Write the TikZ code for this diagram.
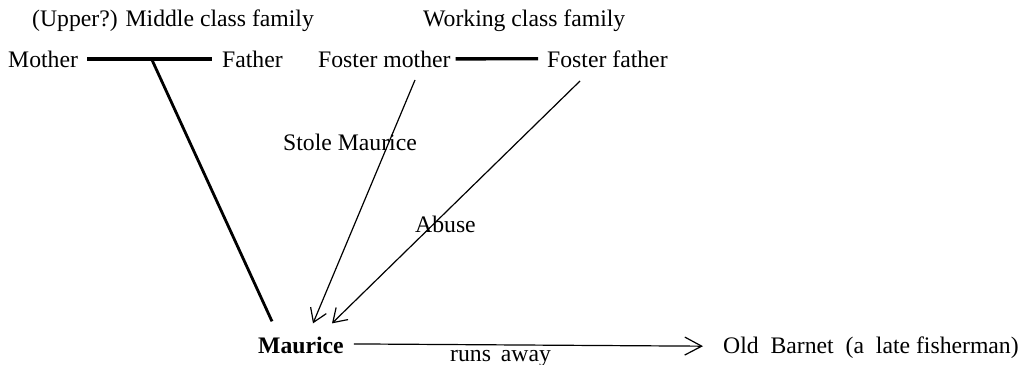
\documentclass[tikz,border=0pt]{standalone}
\usepackage{fontspec}
\setmainfont{Liberation Serif}
\usetikzlibrary{arrows.meta,calc}
\begin{document}
\begin{tikzpicture}[x=1pt,y=-1pt,
  lbl/.style={inner sep=0pt, anchor=base west, font=\fontsize{23.7}{28}\selectfont},
  bond/.style={line width=3.3pt},
  rel/.style={line width=1.2pt, -{Straight Barb[length=13pt,width=17pt,line width=1.2pt]}},
  runarrow/.style={line width=1.2pt, -{Straight Barb[length=17pt,width=18pt,line width=1.2pt]}}]
\useasboundingbox (0,0) rectangle (1032,364);
% headings
\node[lbl] (midclass) at (32,27) {(Upper?) Middle class family};
\node[lbl] (workclass) at (423,27) {Working class family};
% parents
\node[lbl] (mother) at (8,67) {Mother};
\node[lbl] (father) at (222,67) {Father};
\node[lbl] (fmother) at (318,67) {Foster mother};
\node[lbl] (ffather) at (547,67) {Foster father};
% Maurice and Old Barnet
\node[lbl] (maurice) at (258,353) {\bfseries Maurice};
\node[lbl] (barnet) at (723,353) {Old\ \ Barnet\ \ (a\ \ late fisherman)};
% labels
\node[lbl] (stole) at (283,150) {Stole Maurice};
\node[lbl] (abuse) at (415,232) {Abuse};
\node[lbl] (runs) at (450,361) {runs\ \,away};
% bonds
\draw[bond] ([xshift=9pt]mother.east) -- ([xshift=-10pt]father.west);
\draw[bond] ([xshift=5pt]fmother.east) -- ([xshift=-9pt]ffather.west);
% coordinates
\coordinate (mfj) at ($(mother.east)!0.51!(father.west)$);
\coordinate (mtop) at ([xshift=14pt,yshift=15pt]maurice.north west);
\coordinate (stoleS) at (415,80);
\coordinate (abuseS) at (580,81);
\coordinate (stoleE) at ([xshift=55pt,yshift=13pt]maurice.north west);
\coordinate (abuseE) at ([xshift=74pt,yshift=13pt]maurice.north west);
% connectors
\draw[line width=2.8pt] (mfj) -- (mtop);
\draw[rel] (stoleS) -- (stoleE);
\draw[rel] (abuseS) -- (abuseE);
\draw[runarrow] ([xshift=10pt,yshift=1pt]maurice.east) -- ([xshift=-20pt,yshift=1pt]barnet.west);
\end{tikzpicture}
\end{document}
